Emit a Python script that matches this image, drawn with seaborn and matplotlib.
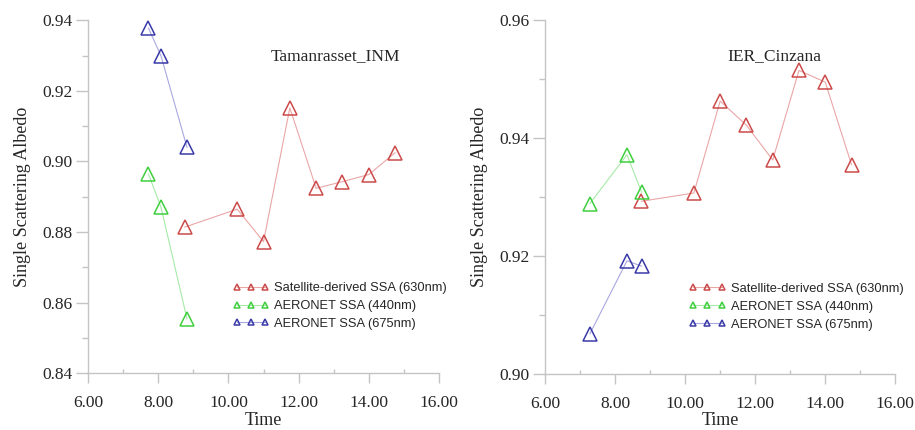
import matplotlib
matplotlib.use("Agg")
import matplotlib.pyplot as plt
import seaborn as sns
import pandas as pd
from matplotlib.ticker import MultipleLocator, FormatStrFormatter

# ---- data ----
titles = ["Tamanrasset_INM", "IER_Cinzana"]
series_labels = ["Satellite-derived SSA (630nm)", "AERONET SSA (440nm)", "AERONET SSA (675nm)"]

# Tamanrasset_INM
tam_sat_time = [8.75, 10.25, 11.0, 11.75, 12.5, 13.25, 14.0, 14.75]
tam_sat_ssa = [0.8814, 0.8865, 0.8773, 0.9152, 0.8924, 0.8943, 0.8963, 0.9025]
tam_aer_time = [7.72, 8.08, 8.82]
tam_aer440 = [0.8965, 0.8870, 0.8554]
tam_aer675 = [0.9378, 0.9299, 0.9040]

# IER_Cinzana
cin_sat_time = [8.75, 10.25, 11.0, 11.75, 12.5, 13.25, 14.0, 14.75]
cin_sat_ssa = [0.9293, 0.9307, 0.9463, 0.9422, 0.9363, 0.9515, 0.9495, 0.9355]
cin_aer_time = [7.28, 8.34, 8.76]
cin_aer440 = [0.9289, 0.9372, 0.9308]
cin_aer675 = [0.9068, 0.9192, 0.9183]

x_ticks = [6.0, 8.0, 10.0, 12.0, 14.0, 16.0]
y_ticks_left = [0.84, 0.86, 0.88, 0.90, 0.92, 0.94]
y_ticks_right = [0.90, 0.92, 0.94, 0.96]

# ---- style ----
sns.set_style("white")
plt.rcParams["font.family"] = ["Liberation Serif", "DejaVu Serif"]

marker_colors = ["#cc4a4a", "#3fcf3f", "#3a3aa8"]
line_colors = ["#eaa6a6", "#a6eaa6", "#a8a8e0"]
spine_color = "#c4c4c4"

fig = plt.figure(figsize=(9.15, 4.3), dpi=100)
ax1 = fig.add_axes([0.0962, 0.1319, 0.3836, 0.8209])
ax2 = fig.add_axes([0.5956, 0.1302, 0.3829, 0.8226])

panels = [
    (ax1, tam_sat_time, tam_sat_ssa, tam_aer_time, tam_aer440, tam_aer675,
     (0.84, 0.94), y_ticks_left, titles[0], (0.705, 0.899), 0.413),
    (ax2, cin_sat_time, cin_sat_ssa, cin_aer_time, cin_aer440, cin_aer675,
     (0.90, 0.96), y_ticks_right, titles[1], (0.655, 0.899), 0.412),
]

for (ax, st, ss, at, a440, a675, ylim, yt, title, tpos, lx) in panels:
    data = [(st, ss), (at, a440), (at, a675)]
    for i, (xs, ys) in enumerate(data):
        df = pd.DataFrame({"Time": xs, "SSA": ys})
        sns.lineplot(data=df, x="Time", y="SSA", ax=ax, label=series_labels[i],
                     color=line_colors[i], linewidth=0.8, marker="^",
                     markersize=9.5, markerfacecolor="none",
                     markeredgecolor=marker_colors[i], markeredgewidth=1.1,
                     legend=False)
    ax.set_xlim(6.0, 16.0)
    ax.set_ylim(*ylim)
    ax.set_xticks(x_ticks)
    ax.set_yticks(yt)
    ax.xaxis.set_major_formatter(FormatStrFormatter("%.2f"))
    ax.yaxis.set_major_formatter(FormatStrFormatter("%.2f"))
    ax.xaxis.set_minor_locator(MultipleLocator(1.0))
    ax.yaxis.set_minor_locator(MultipleLocator(0.01))
    for s in ["top", "right"]:
        ax.spines[s].set_visible(False)
    for s in ["left", "bottom"]:
        ax.spines[s].set_color(spine_color)
        ax.spines[s].set_linewidth(1.0)
    ax.tick_params(axis="x", which="major", direction="out", length=7.5,
                   width=1.0, color=spine_color, labelsize=12.5, pad=8,
                   bottom=True)
    ax.tick_params(axis="x", which="minor", direction="in", length=3,
                   width=1.0, color=spine_color, bottom=True)
    ax.tick_params(axis="y", which="major", direction="out", length=9,
                   width=1.0, color=spine_color, labelsize=12.5, pad=2,
                   left=True)
    ax.tick_params(axis="y", which="minor", direction="out", length=4.5,
                   width=1.0, color=spine_color, left=True)
    ax.set_xlabel("Time", fontsize=13, labelpad=0.5)
    ax.set_ylabel("Single Scattering Albedo", fontsize=13, labelpad=8)
    ax.text(tpos[0], tpos[1], title, transform=ax.transAxes, ha="center",
            va="center", fontsize=12.5)
    handles, labels = ax.get_legend_handles_labels()
    ax.legend(handles, labels, loc="upper left", bbox_to_anchor=(lx, 0.258),
              frameon=False, numpoints=3, markerscale=0.5, handlelength=2.8,
              handletextpad=0.4, borderpad=0, borderaxespad=0,
              labelspacing=0.45,
              prop={"family": ["Liberation Sans", "DejaVu Sans"], "size": 9.3})

fig.savefig("out.png", dpi=100)
